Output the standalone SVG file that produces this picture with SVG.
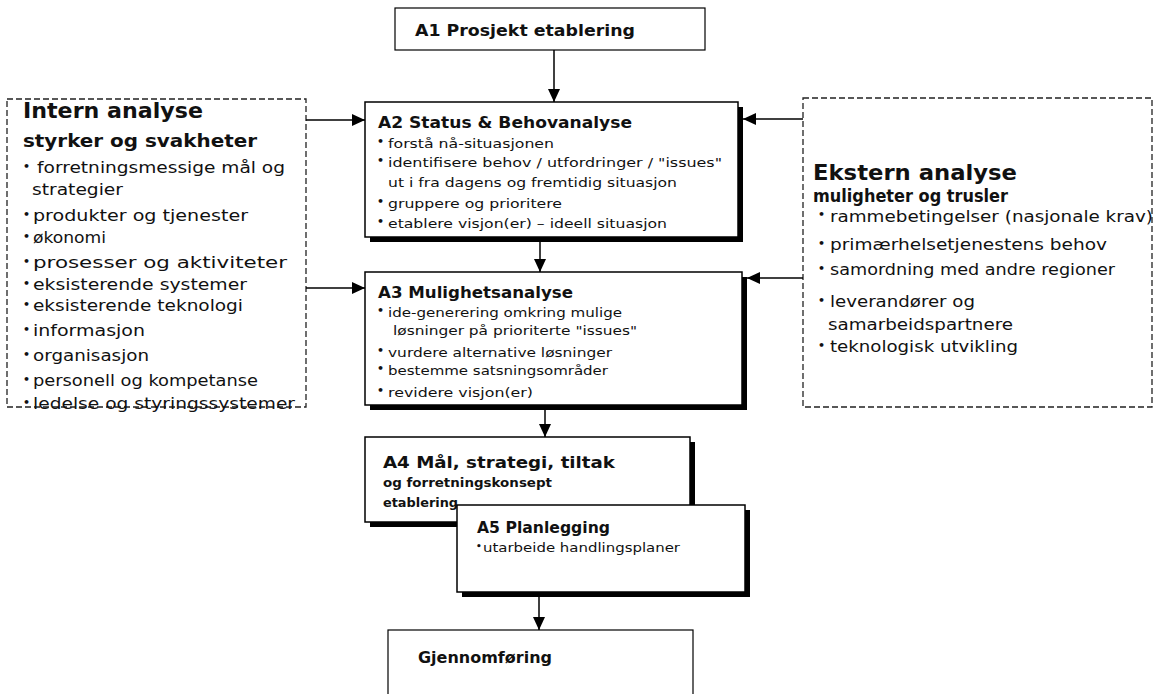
<svg xmlns="http://www.w3.org/2000/svg" width="1154" height="694" viewBox="0 0 1154 694">
<defs>
<style>
text{font-family:"DejaVu Sans","Comic Sans MS",sans-serif;fill:#111;}
.b{font-weight:bold;}
.t16{font-size:15px;font-weight:bold;}
.s14{font-size:13px;}
.s13{font-size:12.5px;}
.s17{font-size:16px;}
.bul{font-size:11px;font-weight:bold;}
.box{fill:#fff;stroke:#000;stroke-width:1.5;}
.sh{fill:#000;}
.dash{fill:none;stroke:#222;stroke-width:1.3;stroke-dasharray:6,3;}
.con{fill:none;stroke:#000;stroke-width:1.5;}
</style>
<marker id="ah" markerUnits="userSpaceOnUse" markerWidth="14" markerHeight="14" viewBox="0 0 14 14" refX="13" refY="7" orient="auto">
<path d="M0,1 L13,7 L0,13 Z" fill="#000"/>
</marker>
</defs>

<g id="A1">
<rect class="box" x="395" y="8" width="310" height="42" style="stroke-width:1.2"/>
<text class="b" x="415" y="36" style="font-size:15px" textLength="220" lengthAdjust="spacingAndGlyphs">A1 Prosjekt etablering</text>
</g>

<g id="intern">
<rect class="dash" x="7" y="99" width="299" height="308"/>
<text x="23" y="118" style="font-size:22px;font-weight:bold" textLength="180" lengthAdjust="spacingAndGlyphs">Intern analyse</text>
<text x="23" y="147" style="font-size:18px;font-weight:bold" textLength="234" lengthAdjust="spacingAndGlyphs">styrker og svakheter</text>
<text class="bul" x="23" y="170">•</text><text class="s17" x="37" y="173" textLength="248" lengthAdjust="spacingAndGlyphs">forretningsmessige mål og</text>
<text class="s17" x="32" y="195" textLength="91" lengthAdjust="spacingAndGlyphs">strategier</text>
<text class="bul" x="23" y="218">•</text><text class="s17" x="33" y="221" textLength="215" lengthAdjust="spacingAndGlyphs">produkter og tjenester</text>
<text class="bul" x="23" y="240">•</text><text class="s17" x="33" y="243" textLength="73" lengthAdjust="spacingAndGlyphs">økonomi</text>
<text class="bul" x="23" y="265">•</text><text class="s17" x="33" y="268" textLength="254" lengthAdjust="spacingAndGlyphs">prosesser og aktiviteter</text>
<text class="bul" x="23" y="287">•</text><text class="s17" x="33" y="290" textLength="214" lengthAdjust="spacingAndGlyphs">eksisterende systemer</text>
<text class="bul" x="23" y="308">•</text><text class="s17" x="33" y="311" textLength="210" lengthAdjust="spacingAndGlyphs">eksisterende teknologi</text>
<text class="bul" x="23" y="333">•</text><text class="s17" x="33" y="336" textLength="112" lengthAdjust="spacingAndGlyphs">informasjon</text>
<text class="bul" x="23" y="358">•</text><text class="s17" x="33" y="361" textLength="116" lengthAdjust="spacingAndGlyphs">organisasjon</text>
<text class="bul" x="23" y="383">•</text><text class="s17" x="33" y="386" textLength="225" lengthAdjust="spacingAndGlyphs">personell og kompetanse</text>
<text class="bul" x="23" y="406">•</text><text class="s17" x="33" y="409" textLength="262" lengthAdjust="spacingAndGlyphs">ledelse og styringssystemer</text>
</g>

<g id="ekstern">
<rect class="dash" x="803" y="98" width="349" height="309"/>
<text x="813" y="180" style="font-size:22px;font-weight:bold" textLength="204" lengthAdjust="spacingAndGlyphs">Ekstern analyse</text>
<text x="813" y="202" style="font-size:17px;font-weight:bold" textLength="195" lengthAdjust="spacingAndGlyphs">muligheter og trusler</text>
<text class="bul" x="818" y="218">•</text><text class="s17" x="830" y="222" textLength="323" lengthAdjust="spacingAndGlyphs">rammebetingelser (nasjonale krav)</text>
<text class="bul" x="818" y="247">•</text><text class="s17" x="830" y="250" textLength="277" lengthAdjust="spacingAndGlyphs">primærhelsetjenestens behov</text>
<text class="bul" x="818" y="272">•</text><text class="s17" x="830" y="275" textLength="285" lengthAdjust="spacingAndGlyphs">samordning med andre regioner</text>
<text class="bul" x="818" y="304">•</text><text class="s17" x="830" y="307" textLength="145" lengthAdjust="spacingAndGlyphs">leverandører og</text>
<text class="s17" x="828" y="330" textLength="185" lengthAdjust="spacingAndGlyphs">samarbeidspartnere</text>
<text class="bul" x="818" y="349">•</text><text class="s17" x="830" y="352" textLength="188" lengthAdjust="spacingAndGlyphs">teknologisk utvikling</text>
</g>

<g id="A2">
<rect class="sh" x="370" y="107" width="373" height="135"/>
<rect class="box" x="365" y="102" width="373" height="135"/>
<text class="t16" x="378" y="128" textLength="254" lengthAdjust="spacingAndGlyphs">A2 Status &amp; Behovanalyse</text>
<text class="bul" x="377" y="145">•</text><text class="s14" x="388" y="148" textLength="166" lengthAdjust="spacingAndGlyphs">forstå nå-situasjonen</text>
<text class="bul" x="377" y="164">•</text><text class="s14" x="388" y="167" textLength="334" lengthAdjust="spacingAndGlyphs">identifisere behov / utfordringer / "issues"</text>
<text class="s14" x="388" y="187" textLength="289" lengthAdjust="spacingAndGlyphs">ut i fra dagens og fremtidig situasjon</text>
<text class="bul" x="377" y="205">•</text><text class="s14" x="388" y="208" textLength="174" lengthAdjust="spacingAndGlyphs">gruppere og prioritere</text>
<text class="bul" x="377" y="225">•</text><text class="s14" x="388" y="228" textLength="279" lengthAdjust="spacingAndGlyphs">etablere visjon(er) – ideell situasjon</text>
</g>

<g id="A3">
<rect class="sh" x="370" y="277" width="377" height="133"/>
<rect class="box" x="365" y="272" width="377" height="133"/>
<text class="t16" x="378" y="298" textLength="195" lengthAdjust="spacingAndGlyphs">A3 Mulighetsanalyse</text>
<text class="bul" x="377" y="314">•</text><text class="s14" x="388" y="317" textLength="234" lengthAdjust="spacingAndGlyphs">ide-generering omkring mulige</text>
<text class="s14" x="393" y="335" textLength="244" lengthAdjust="spacingAndGlyphs">løsninger på prioriterte "issues"</text>
<text class="bul" x="377" y="354">•</text><text class="s14" x="388" y="357" textLength="224" lengthAdjust="spacingAndGlyphs">vurdere alternative løsninger</text>
<text class="bul" x="377" y="372">•</text><text class="s14" x="388" y="375" textLength="220" lengthAdjust="spacingAndGlyphs">bestemme satsningsområder</text>
<text class="bul" x="377" y="394">•</text><text class="s14" x="388" y="397" textLength="145" lengthAdjust="spacingAndGlyphs">revidere visjon(er)</text>
</g>

<g id="A4">
<rect class="sh" x="370" y="442" width="325" height="85"/>
<rect class="box" x="365" y="437" width="325" height="85"/>
<text class="t16" x="383" y="468" textLength="232" lengthAdjust="spacingAndGlyphs">A4 Mål, strategi, tiltak</text>
<text class="s13 b" x="383" y="487" textLength="169" lengthAdjust="spacingAndGlyphs">og forretningskonsept</text>
<text class="s13 b" x="383" y="507" textLength="75" lengthAdjust="spacingAndGlyphs">etablering</text>
</g>

<g id="A5">
<rect class="sh" x="462" y="510" width="288" height="87"/>
<rect class="box" x="457" y="505" width="288" height="87"/>
<text class="t16" x="477" y="533" textLength="133" lengthAdjust="spacingAndGlyphs">A5 Planlegging</text>
<text class="bul" x="476" y="549" style="font-size:9px">•</text><text class="s13" x="483" y="552" textLength="197" lengthAdjust="spacingAndGlyphs">utarbeide handlingsplaner</text>
</g>

<g id="gjennomforing">
<rect class="box" x="388" y="630" width="305" height="80" style="stroke-width:1.2"/>
<text class="b" x="418" y="663" style="font-size:15px" textLength="134" lengthAdjust="spacingAndGlyphs">Gjennomføring</text>
</g>

<g id="connectors">
<line class="con" x1="554" y1="50" x2="554" y2="102" marker-end="url(#ah)"/>
<line class="con" x1="306" y1="120" x2="365" y2="120" marker-end="url(#ah)"/>
<line class="con" x1="803" y1="119" x2="743" y2="119" marker-end="url(#ah)"/>
<line class="con" x1="540" y1="242" x2="540" y2="272" marker-end="url(#ah)"/>
<line class="con" x1="306" y1="288" x2="365" y2="288" marker-end="url(#ah)"/>
<line class="con" x1="803" y1="278" x2="747" y2="278" marker-end="url(#ah)"/>
<line class="con" x1="545" y1="410" x2="545" y2="437" marker-end="url(#ah)"/>
<line class="con" x1="539" y1="597" x2="539" y2="630" marker-end="url(#ah)"/>
</g>
</svg>
